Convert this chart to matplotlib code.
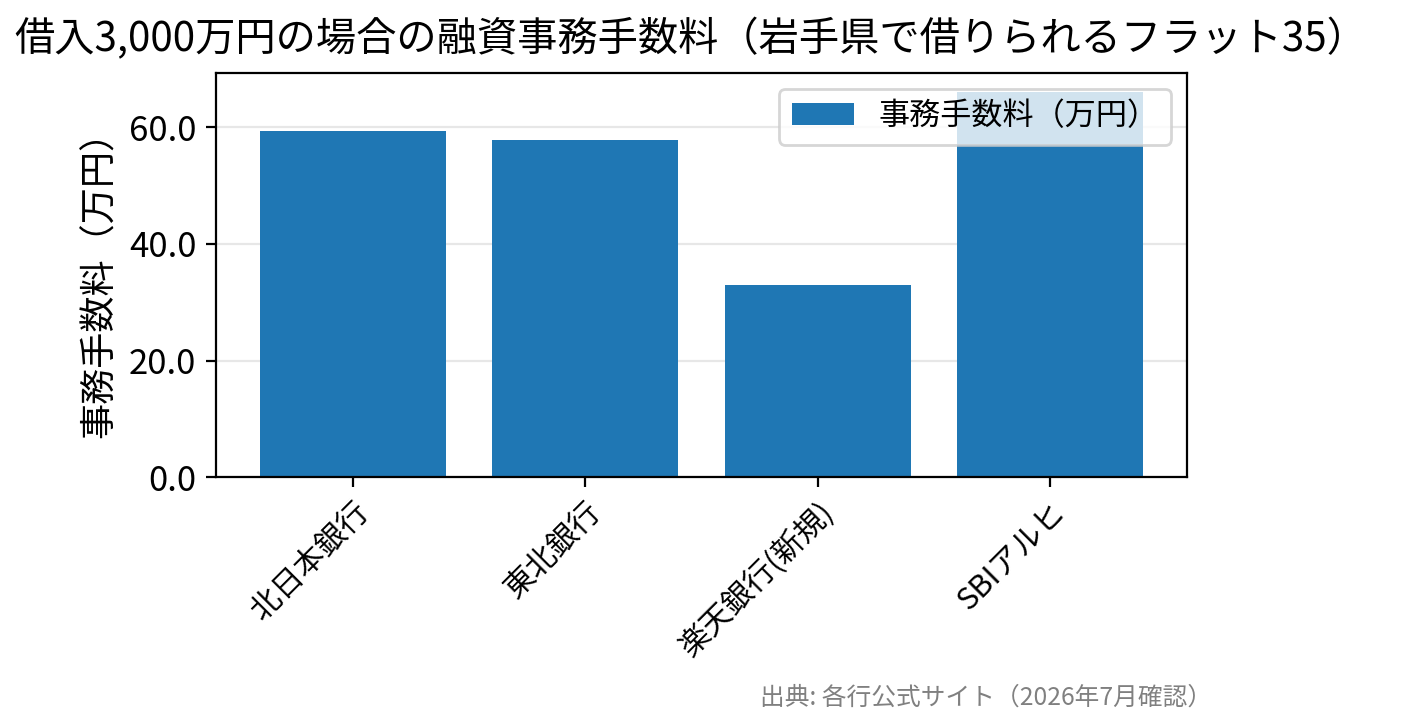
import matplotlib.pyplot as plt

plt.rcParams['font.family'] = ['Noto Sans CJK JP', 'DejaVu Sans']

banks = ['北日本銀行', '東北銀行', '楽天銀行(新規)', 'SBIアルヒ']
fees = [59.4, 57.9, 33.0, 66.0]
yticks = [0, 20, 40, 60]

fig = plt.figure(figsize=(7.02, 3.625), dpi=200)
ax = fig.add_axes([0.1538, 0.342, 0.6916, 0.557])

ax.bar(range(len(banks)), fees, width=0.8, color='#1f77b4', label='事務手数料（万円）', zorder=2)
ax.set_ylim(0, max(fees) * 1.05)
ax.set_yticks(yticks)
ax.set_yticklabels([f'{v:.1f}' for v in yticks], fontsize=12.5)
ax.set_xticks(range(len(banks)))
ax.set_xticklabels(banks, rotation=45, ha='right', rotation_mode='anchor', fontsize=11)
ax.yaxis.grid(True, color='#dddddd', alpha=0.7, lw=0.8, zorder=0)
ax.set_ylabel('事務手数料（万円）', fontsize=13)
ax.legend(loc='upper right', fontsize=11.2, framealpha=0.8)

fig.text(0.492, 0.975, '借入3,000万円の場合の融資事務手数料（岩手県で借りられるフラット35）',
         ha='center', va='top', fontsize=14.5)
fig.text(0.863, 0.038, '出典: 各行公式サイト（2026年7月確認）', ha='right', va='center',
         fontsize=8.9, color='gray')

fig.savefig('out.png', dpi=200)
